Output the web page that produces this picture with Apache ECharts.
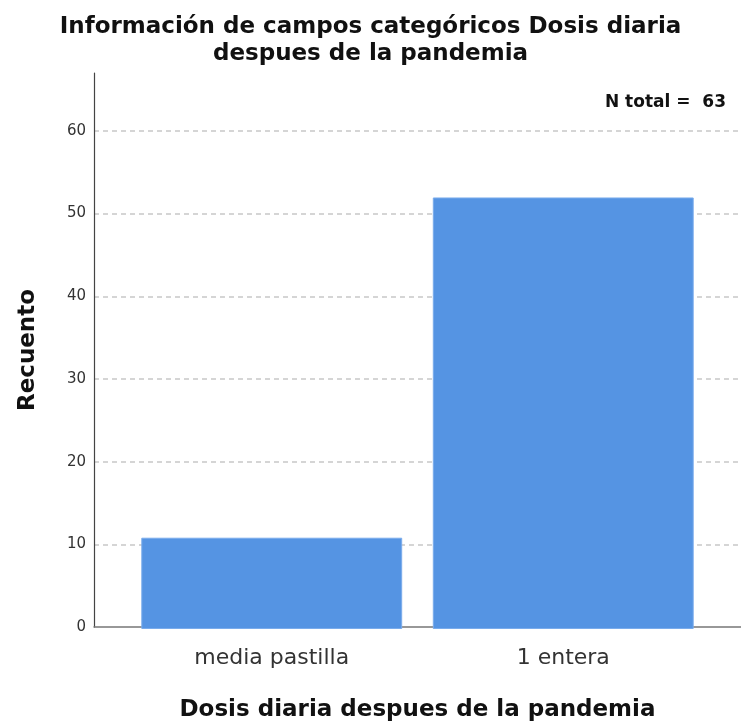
<!DOCTYPE html>
<html>
<head>
<meta charset="utf-8">
<script src="https://cdn.jsdelivr.net/npm/echarts@6/dist/echarts.min.js"></script>
<style>html,body{margin:0;padding:0;background:#fff}#c{width:741px;height:727px}</style>
</head>
<body>
<div id="c"></div>
<script>
const categories = ['media pastilla', '1 entera'];
const counts = [11, 52];
const nTotal = 63;
const yMax = 67;
const yInterval = 10;

const FONT = '"DejaVu Sans", "Liberation Sans", Arial, sans-serif';
const chart = echarts.init(document.getElementById('c'));
chart.setOption({
  animation: false,
  backgroundColor: '#fff',
  title: [
    {
      text: 'Información de campos categóricos Dosis diaria\ndespues de la pandemia',
      left: 'center', top: 9,
      textStyle: { fontFamily: FONT, fontWeight: 'bold', fontSize: 23, lineHeight: 27, color: '#111' }
    },
    {
      text: 'N total =  ' + nTotal,
      right: 10, top: 89,
      textStyle: { fontFamily: FONT, fontWeight: 'bold', fontSize: 17, color: '#111' }
    }
  ],
  grid: [
    { left: 126, right: 32, top: 73, bottom: 98 },
    { left: 94, right: 0, top: 73, bottom: 98 }
  ],
  xAxis: [
    {
      type: 'category', gridIndex: 0, data: categories, boundaryGap: true,
      axisLine: { show: false }, axisTick: { show: false },
      axisLabel: { fontFamily: FONT, fontSize: 22, color: '#333', margin: 18 }
    },
    {
      type: 'value', gridIndex: 1, min: 0, max: 1,
      axisLine: { show: true, lineStyle: { color: '#777', width: 1.5 } },
      axisTick: { show: false }, axisLabel: { show: false }, splitLine: { show: false },
      name: 'Dosis diaria despues de la pandemia', nameLocation: 'middle', nameGap: 72,
      nameTextStyle: { fontFamily: FONT, fontWeight: 'bold', fontSize: 23, color: '#111' }
    }
  ],
  yAxis: [
    { type: 'value', gridIndex: 0, min: 0, max: yMax, interval: yInterval, show: false },
    {
      type: 'value', gridIndex: 1, min: 0, max: yMax, interval: yInterval,
      axisLine: { show: true, lineStyle: { color: '#444', width: 1.2 } },
      axisTick: { show: false },
      axisLabel: { fontFamily: FONT, fontSize: 15, color: '#333', margin: 8, showMaxLabel: false },
      splitLine: { show: true, showMinLine: false, showMaxLine: false, lineStyle: { color: '#c8c8c8', type: [5, 4], width: 1.5 } },
      name: 'Recuento', nameLocation: 'middle', nameGap: 54,
      nameTextStyle: { fontFamily: FONT, fontWeight: 'bold', fontSize: 23, color: '#111' }
    }
  ],
  series: [
    {
      type: 'bar', xAxisIndex: 0, yAxisIndex: 0, data: counts,
      barCategoryGap: '10.5%',
      itemStyle: { color: '#5594e3', borderColor: '#7aacec', borderWidth: 1 }
    }
  ]
});
</script>
</body>
</html>
